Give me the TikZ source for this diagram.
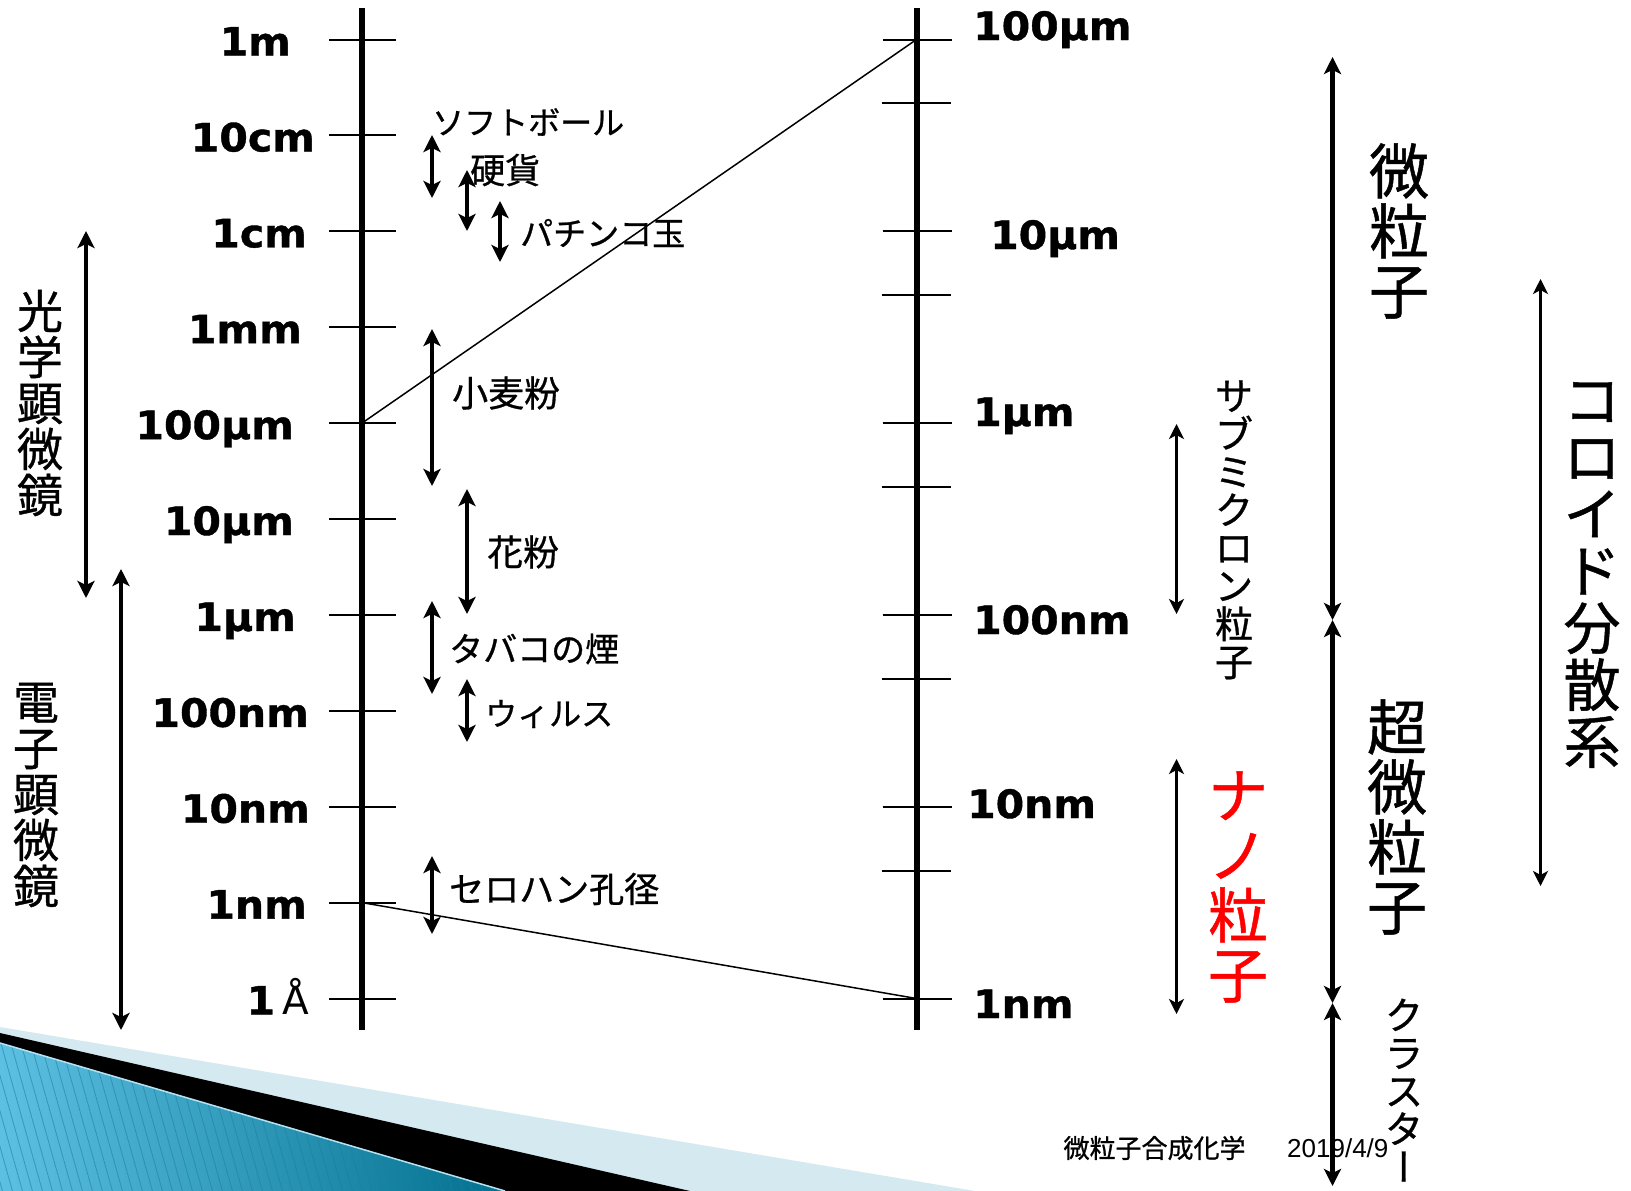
\documentclass[tikz,border=0pt]{standalone}
\usepackage{fontspec}
\setmainfont{DejaVu Sans}
\newfontfamily\jp{Noto Sans CJK JP}[FakeBold=0.8]
\newfontfamily\heavy{DejaVu Sans Bold}[FakeBold=1, FakeStretch=1.05]
\newfontfamily\arialfont{Liberation Sans}
\usetikzlibrary{arrows.meta}

\definecolor{bandlight}{HTML}{D5E9F1}
\definecolor{bandblueA}{HTML}{5CC0E2}
\definecolor{bandblueB}{HTML}{02708F}
\definecolor{stripecol}{HTML}{1E7F9E}
\definecolor{nanored}{HTML}{FF0000}

\def\fsz#1{\fontsize{#1}{#1}\selectfont}
\def\sizebar#1#2#3#4#5{\coordinate (#2-a) at (#3,#4); \coordinate (#2-b) at (#3,#5); \draw[#1] (#2-a) -- (#2-b);}

\tikzset{
	scaleaxis/.style={line width=6pt},
	scaletick/.style={line width=2pt},
	zoomline/.style={line width=1.5pt},
	scalelbl/.style={font=\heavy\fsz{39}, inner sep=0pt},
	itemlbl/.style={font=\jp\fsz{#1}, anchor=west, inner sep=0pt},
	itemlbl/.default=33,
	vlbl/.style={align=center, inner sep=0pt},
	sizerange/.style={{Stealth[length=17pt,width=17pt,inset=4pt]}-{Stealth[length=17pt,width=17pt,inset=4pt]}, line width=4.5pt},
	thinrange/.style={{Stealth[length=15pt,width=15pt,inset=4pt]}-{Stealth[length=15pt,width=15pt,inset=4pt]}, line width=3.5pt},
}

\begin{document}
\begin{tikzpicture}[x=1pt, y=-1pt]
	\useasboundingbox (0,0) rectangle (1631,1191);

	% corner band
	\fill[bandlight] (0,1027) -- (975,1191) -- (0,1191) -- cycle;
	\fill[black] (0,1033) -- (690,1191) -- (0,1191) -- cycle;
	\shade[left color=bandblueA, right color=bandblueB] (0,1043) -- (505,1191) -- (0,1191) -- cycle;
	\begin{scope}
		\clip (0,1043) -- (505,1191) -- (0,1191) -- cycle;
		\foreach \s in {-60,-50,...,520}
			\draw[stripecol, line width=0.8pt, opacity=0.6] (\s,1040) -- ++(45,160);
	\end{scope}
	\draw[white!55!bandblueA, line width=1.5pt] (0,1043) -- (505,1191);

	% left scale
	\coordinate (ltop) at (362,8);
	\coordinate (lbot) at (362,1030);
	\draw[scaleaxis] (ltop) -- (lbot);
	\foreach \lbl/\xe [count=\i from 0] in {1m/291, 10cm/315, 1cm/307, 1mm/302, 100μm/294, 10μm/294, 1μm/296, 100nm/309, 10nm/310, 1nm/307, {1\hspace{7pt}{\normalfont Å}}/309} {
		\coordinate (L\i) at (362,39.5+95.9*\i);
		\draw[scaletick] ([xshift=-33pt]L\i) -- ([xshift=34pt]L\i);
		\node[scalelbl, anchor=base east] (lbl\i) at (\xe,55.5+95.9*\i) {\lbl};
	}

	% right scale
	\coordinate (rtop) at (916.5,8);
	\coordinate (rbot) at (916.5,1030);
	\draw[scaleaxis] (rtop) -- (rbot);
	\foreach \j in {0,...,5} {
		\coordinate (R\j) at (916.5,39.5+191.8*\j);
		\draw[scaletick] ([xshift=-34pt]R\j) -- ([xshift=35pt]R\j);
	}
	\foreach \j in {0,...,4}
		\draw[scaletick] (882,103.4+191.8*\j) -- (951,103.4+191.8*\j);
	\foreach \lbl/\xs/\yb [count=\j from 0] in {100μm/973/40, 10μm/990/249, 1μm/973/426, 100nm/973/634, 10nm/967/818, 1nm/973/1018}
		\node[scalelbl, anchor=base west] (rlbl\j) at (\xs,\yb) {\lbl};

	\draw[zoomline] (L4) -- (R0);
	\draw[zoomline] (L9) -- (R5);

	% microscopes
	\sizebar{sizerange}{optic}{86}{231}{598}
	\sizebar{sizerange}{electron}{121}{569}{1030}
	\node[vlbl, font=\jp\fsz{46}] (optictxt) at (40,403) {光\\学\\顕\\微\\鏡};
	\node[vlbl, font=\jp\fsz{46}] (electrontxt) at (36,795) {電\\子\\顕\\微\\鏡};

	% examples
	\sizebar{sizerange}{softball}{432}{135}{198}
	\node[itemlbl=32] (softballtxt) at (432,122) {ソフトボール};
	\sizebar{sizerange}{coin}{467}{170}{231}
	\node[itemlbl=35] (cointxt) at (470,170) {硬貨};
	\sizebar{sizerange}{pachinko}{500}{201}{262}
	\node[itemlbl] (pachinkotxt) at (520,233) {パチンコ玉};
	\sizebar{sizerange}{flour}{432}{329}{486}
	\node[itemlbl=36] (flourtxt) at (452,393) {小麦粉};
	\sizebar{sizerange}{pollen}{467}{489}{614}
	\node[itemlbl=36] (pollentxt) at (487,552) {花粉};
	\sizebar{sizerange}{smoke}{432}{601}{694}
	\node[itemlbl=34] (smoketxt) at (449,649) {タバコの煙};
	\sizebar{sizerange}{virus}{467}{679}{742}
	\node[itemlbl=32] (virustxt) at (485,714) {ウィルス};
	\sizebar{sizerange}{cello}{432}{856}{934}
	\node[itemlbl=35] (cellotxt) at (449,889) {セロハン孔径};

	% classes
	\sizebar{thinrange}{submicron}{1176.5}{424}{614}
	\node[vlbl, font=\jp\fsz{38}] (submicrontxt) at (1234,530) {サ\\ブ\\ミ\\ク\\ロ\\ン\\粒\\子};
	\sizebar{thinrange}{nano}{1176.5}{759}{1014}
	\node[vlbl, font=\jp\fsz{60}, text=nanored] (nanotxt) at (1238,887) {ナ\\ノ\\粒\\子};
	\sizebar{thinrange}{colloid}{1540.5}{279}{886}
	\node[vlbl, font=\jp\fsz{57}] (colloidtxt) at (1592,575) {コ\\ロ\\イ\\ド\\分\\散\\系};

	\node[anchor=west, font=\jp\fsz{26}] (foottitle) at (1060,1148) {微粒子合成化学};
	\node[anchor=west, font=\arialfont\fsz{26}, inner sep=0pt] (footdate) at (1287,1148) {2019/4/9};

	\coordinate (big0) at (1332.5,57);
	\coordinate (big1) at (1332.5,620);
	\coordinate (big2) at (1332.5,1003);
	\coordinate (big3) at (1332.5,1186);
	\draw[sizerange] (big0) -- (big1);
	\draw[sizerange] (big1) -- (big2);
	\draw[sizerange] (big2) -- (big3);
	\node[vlbl, font=\jp\fsz{60}] (finetxt) at (1399,231) {微\\粒\\子};
	\node[vlbl, font=\jp\fsz{60}] (ultratxt) at (1397,817) {超\\微\\粒\\子};
	\node[vlbl, font=\jp\fsz{38}] (clustertxt) at (1404,1090) {ク\\ラ\\ス\\タ\\{\addfontfeature{RawFeature=+vert}ー}};
\end{tikzpicture}
\end{document}
